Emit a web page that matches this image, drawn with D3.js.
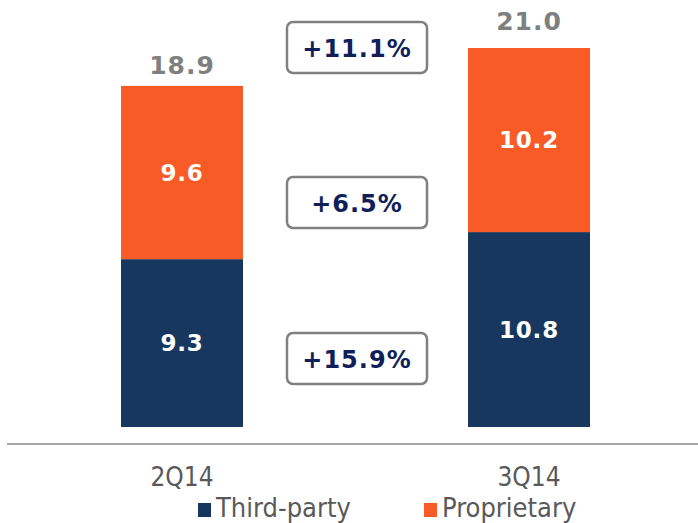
<!DOCTYPE html>
<html lang="en">
<head>
<meta charset="UTF-8">
<title>Third-party vs Proprietary</title>
<script src="https://cdn.jsdelivr.net/npm/d3@7"></script>
<style>
  body { margin: 0; background: #fff; }
  svg { display: block; }
</style>
</head>
<body>
<div id="chart"></div>
<script>
// data
const categories = ['2Q14', '3Q14'];
const thirdParty = [9.3, 10.8];
const proprietary = [9.6, 10.2];
const totals = [18.9, 21.0];
const growthLabels = ['+11.1%', '+6.5%', '+15.9%'];   // total, proprietary, third-party
const seriesNames = ['Third-party', 'Proprietary'];
const seriesColors = ['#17375e', '#f95b26'];

const width = 698, height = 523;
const boldFont = 'DejaVu Sans, Verdana, sans-serif';
const lightFont = 'DejaVu Sans Condensed, sans-serif';

const svg = d3.select('#chart').append('svg')
    .attr('width', width)
    .attr('height', height);

// bars sit at 121-243 and 468-590
const x = d3.scaleOrdinal().domain(categories).range([121, 468]);
const barW = 122;

const y = d3.scaleLinear().domain([0, 21]).range([427, 48]);

// stacked data
const rows = categories.map((c, i) => ({ cat: c, third: thirdParty[i], prop: proprietary[i] }));
const stack = d3.stack().keys(['third', 'prop'])(rows);

stack.forEach((layer, li) => {
    svg.append('g').selectAll('rect')
        .data(layer)
        .join('rect')
        .attr('x', d => x(d.data.cat))
        .attr('width', barW)
        .attr('y', d => y(d[1]))
        .attr('height', d => y(d[0]) - y(d[1]))
        .attr('fill', seriesColors[li]);

    svg.append('g').selectAll('text')
        .data(layer)
        .join('text')
        .attr('x', d => x(d.data.cat) + barW / 2)
        .attr('y', d => (y(d[0]) + y(d[1])) / 2 + 8)
        .attr('text-anchor', 'middle')
        .attr('font-family', boldFont)
        .attr('font-weight', 'bold')
        .attr('font-size', 23)
        .attr('letter-spacing', 0.8)
        .attr('fill', '#fff')
        .text(d => (d[1] - d[0]).toFixed(1));
});

// totals above bars
const totalGap = [12, 18];
svg.append('g').selectAll('text')
    .data(categories)
    .join('text')
    .attr('x', c => x(c) + barW / 2)
    .attr('y', (c, i) => y(totals[i]) - totalGap[i])
    .attr('text-anchor', 'middle')
    .attr('font-family', boldFont)
    .attr('font-weight', 'bold')
    .attr('font-size', 25)
    .attr('letter-spacing', 1)
    .attr('fill', '#7f7f7f')
    .text((c, i) => totals[i].toFixed(1));

// growth boxes
const boxX = 287, boxW = 140, boxH = 51;
const boxTops = [22, 177, 333];
const boxes = svg.append('g').selectAll('g')
    .data(growthLabels)
    .join('g')
    .attr('transform', (d, i) => `translate(${boxX},${boxTops[i]})`);

boxes.append('rect')
    .attr('width', boxW)
    .attr('height', boxH)
    .attr('rx', 6)
    .attr('fill', '#fff')
    .attr('stroke', '#808080')
    .attr('stroke-width', 2.5);

boxes.append('text')
    .attr('x', boxW / 2)
    .attr('y', boxH / 2 + 9)
    .attr('text-anchor', 'middle')
    .attr('font-family', boldFont)
    .attr('font-weight', 'bold')
    .attr('font-size', 24)
    .attr('letter-spacing', 1)
    .attr('fill', '#101f5a')
    .text(d => d);

// baseline
svg.append('line')
    .attr('x1', 7).attr('x2', width)
    .attr('y1', 444).attr('y2', 444)
    .attr('stroke', '#a6a6a6')
    .attr('stroke-width', 2);

// category labels
svg.append('g').selectAll('text')
    .data(categories)
    .join('text')
    .attr('x', c => x(c) + barW / 2)
    .attr('y', 486)
    .attr('text-anchor', 'middle')
    .attr('font-family', lightFont)
    .attr('font-size', 26)
    .attr('fill', '#595959')
    .text(c => c);

// legend
const legendX = [198, 424];
const legend = svg.append('g').selectAll('g')
    .data(seriesNames)
    .join('g')
    .attr('transform', (d, i) => `translate(${legendX[i]},0)`);

legend.append('rect')
    .attr('y', 503)
    .attr('width', 13)
    .attr('height', 14)
    .attr('fill', (d, i) => seriesColors[i]);

legend.append('text')
    .attr('x', 18)
    .attr('y', 517)
    .attr('font-family', lightFont)
    .attr('font-size', 27)
    .attr('fill', '#595959')
    .text(d => d);
</script>
</body>
</html>
